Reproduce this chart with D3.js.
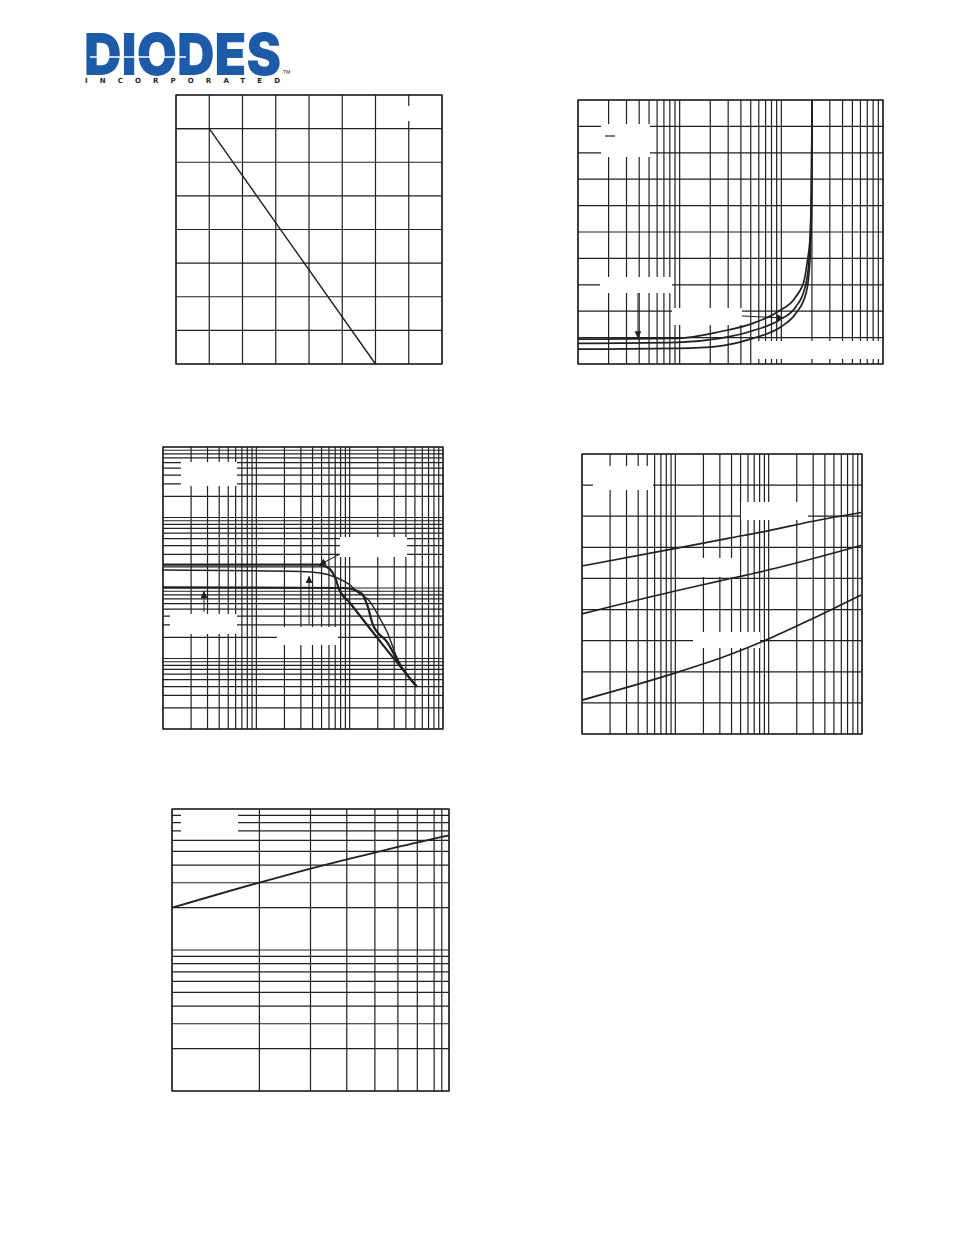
<!DOCTYPE html>
<html><head><meta charset="utf-8">
<script src="https://cdn.jsdelivr.net/npm/d3@7"></script>
<style>html,body{margin:0;padding:0;background:#fff}svg{display:block}</style>
</head><body><svg id="page" width="954" height="1235"></svg>
<script>
// ---------------- DATA ----------------
// Chart 1: power derating (linear)
const derateTemp  = [0, 25, 150];
const deratePower = [350, 350, 0];
const derateXGrid = [0, 25, 50, 75, 100, 125, 150, 175, 200];
const derateYGrid = [0, 50, 100, 150, 200, 250, 300, 350, 400];

// Chart 2: reverse characteristic (log x, linear y) – three curves
const revTopX = [1, 9.56, 24.7, 52.3, 92, 139, 168, 181, 191, 197, 201];
const revTopY = [0.94, 0.97, 1.22, 1.54, 1.98, 2.55, 3.18, 3.94, 4.70, 6.4, 10];
const revMidX = [1, 9.56, 24.7, 52.3, 95.6, 139, 168, 185, 192, 198, 201];
const revMidY = [0.78, 0.82, 0.97, 1.26, 1.67, 2.17, 2.80, 3.69, 4.70, 6.4, 10];
const revBotX = [1, 9.56, 24.7, 52.3, 99.3, 139, 175, 188, 195, 199, 201];
const revBotY = [0.56, 0.59, 0.68, 0.97, 1.41, 1.92, 2.68, 3.56, 4.70, 6.4, 10];
const revArrows = [ // [x0,y0,x1,y1] in data units
  [3.89, 2.69, 3.89, 0.98],
  [41, 1.82, 106, 1.74]
];

// Chart 3: log-log, three curves converging
const pulseTopX = [1, 45.8, 55.8, 64.8, 71.5, 76, 101, 228, 524];
const pulseTopY = [215, 215, 202, 169, 130, 100, 61.3, 15.5, 3.98];
const pulseMidX = [1, 29.4, 48.2, 69.7, 101, 120, 165, 201, 252, 322, 524];
const pulseMidY = [180, 171, 163, 143, 110, 88.6, 64, 41.4, 23.7, 10.2, 3.98];
const pulseBotX = [1, 85, 114, 136, 154, 178, 252, 347, 524];
const pulseBotY = [102, 100, 93.7, 82.2, 57.4, 29.9, 17.1, 8.09, 3.98];
const pulseArrows = [
  [78.9, 303, 47, 212],
  [36.7, 29.9, 36.7, 148],
  [2.75, 45.7, 2.75, 90.7]
];

// Chart 4: log x, linear y – three rising curves
const capTopX = [1, 9.45, 36.7, 98.6, 287, 977];
const capTopY = [5.40, 5.95, 6.29, 6.53, 6.83, 7.12];
const capMidX = [1, 9.45, 30.1, 98.6, 977];
const capMidY = [3.86, 4.58, 4.92, 5.27, 6.06];
const capBotX = [1, 9.45, 33.8, 98.6, 287, 977];
const capBotY = [1.09, 1.94, 2.49, 3.05, 3.69, 4.47];

// Chart 5: log-log single line
const c5X = [1, 2, 3, 4, 5, 6, 9];
const c5Y = [19.95, 30.1, 37.7, 43.9, 49.1, 53.8, 65.1];
const c5XGrid = [1, 2, 3, 4, 5, 6, 7, 8, 8.5, 9];

// ---------------- LAYOUT ----------------
const INK = "#231f20";
const svg = d3.select("#page");

function panel(cfg) {
  const g = svg.append("g");
  const {x, y} = cfg;
  const [x0, x1] = x.range(), [y1, y0] = y.range();
  g.selectAll(".gx").data(cfg.xGrid).join("line")
    .attr("x1", d => x(d)).attr("x2", d => x(d))
    .attr("y1", y0).attr("y2", y1)
    .attr("stroke", INK).attr("stroke-width", 1.2);
  g.selectAll(".gy").data(cfg.yGrid).join("line")
    .attr("y1", d => y(d)).attr("y2", d => y(d))
    .attr("x1", x0).attr("x2", x1)
    .attr("stroke", INK).attr("stroke-width", 1.2);
  (cfg.boxes || []).forEach(b => {
    g.append("rect").attr("x", x0 + b[0]).attr("y", y0 + b[1])
      .attr("width", b[2]).attr("height", b[3]).attr("fill", "#fff");
  });
  g.append("rect").attr("x", x0).attr("y", y0)
    .attr("width", x1 - x0).attr("height", y1 - y0)
    .attr("fill", "none").attr("stroke", INK).attr("stroke-width", 1.3);
  return g;
}

function drawSeries(g, x, y, xs, ys, w, curve) {
  const pts = xs.map((v, i) => [v, ys[i]]);
  g.append("path").datum(pts)
    .attr("d", d3.line().x(d => x(d[0])).y(d => y(d[1])).curve(curve || d3.curveLinear))
    .attr("fill", "none").attr("stroke", INK).attr("stroke-width", w)
    .attr("stroke-linejoin", "round");
}

svg.append("defs").append("marker")
  .attr("id", "arr").attr("viewBox", "0 0 10 10").attr("refX", 10).attr("refY", 5)
  .attr("markerWidth", 7).attr("markerHeight", 7).attr("markerUnits", "userSpaceOnUse")
  .attr("orient", "auto")
  .append("path").attr("d", "M0,0L10,5L0,10Z").attr("fill", INK);

function drawArrows(g, x, y, arr) {
  arr.forEach(a => {
    g.append("line").attr("x1", x(a[0])).attr("y1", y(a[1]))
      .attr("x2", x(a[2])).attr("y2", y(a[3]))
      .attr("stroke", INK).attr("stroke-width", 1).attr("marker-end", "url(#arr)");
  });
}

// ---- Chart 1
{
  const x = d3.scaleLinear().domain([0, 200]).range([176, 442]);
  const y = d3.scaleLinear().domain([0, 400]).range([364, 95]);
  const g = panel({x, y, xGrid: derateXGrid, yGrid: derateYGrid, boxes: [[222, 11, 20, 15]]});
  drawSeries(g, x, y, derateTemp, deratePower, 1.4);
}

// ---- Chart 2
{
  const x = d3.scaleLog().domain([1, 1000]).range([578, 883]);
  const y = d3.scaleLinear().domain([0, 10]).range([364, 100]);
  const g = panel({x, y, xGrid: x.ticks(), yGrid: y.ticks(10),
    boxes: [[23, 24, 49, 33], [22, 177, 72, 16], [94, 208, 70, 17], [179, 241, 125, 18]]});
  g.append("line").attr("x1", x(1) + 27).attr("x2", x(1) + 37)
    .attr("y1", y(10) + 36).attr("y2", y(10) + 36).attr("stroke", INK).attr("stroke-width", 1.2);
  [[revTopX, revTopY], [revMidX, revMidY], [revBotX, revBotY]].forEach(s =>
    drawSeries(g, x, y, s[0], s[1], 1.7, d3.curveMonotoneX));
  drawArrows(g, x, y, revArrows);
}

// ---- Chart 3
{
  const x = d3.scaleLog().domain([1, 1000]).range([163, 443]);
  const y = d3.scaleLog().domain([1, 10000]).range([729, 447]);
  const g = panel({x, y, xGrid: x.ticks(), yGrid: y.ticks(),
    boxes: [[18, 15, 56, 24], [177, 90, 67, 20], [7, 167, 67, 20], [114, 180, 61, 18]]});
  drawSeries(g, x, y, pulseTopX, pulseTopY, 2.2, d3.curveMonotoneX);
  drawSeries(g, x, y, pulseMidX, pulseMidY, 1.4, d3.curveMonotoneX);
  drawSeries(g, x, y, pulseBotX, pulseBotY, 2.2, d3.curveMonotoneX);
  drawArrows(g, x, y, pulseArrows);
}

// ---- Chart 4
{
  const x = d3.scaleLog().domain([1, 1000]).range([582, 862]);
  const y = d3.scaleLinear().domain([0, 9]).range([734, 454]);
  const g = panel({x, y, xGrid: x.ticks(), yGrid: y.ticks(9),
    boxes: [[11, 12, 60, 24], [159, 48, 67, 18], [118, 104, 38, 19], [111, 178, 67, 16]]});
  drawSeries(g, x, y, capTopX, capTopY, 1.7, d3.curveMonotoneX);
  drawSeries(g, x, y, capMidX, capMidY, 1.7, d3.curveMonotoneX);
  drawSeries(g, x, y, capBotX, capBotY, 1.7, d3.curveMonotoneX);
}

// ---- Chart 5
{
  const x = d3.scaleLog().domain([1, 9]).range([172, 449]);
  const y = d3.scaleLog().domain([1, 100]).range([1091, 809]);
  const g = panel({x, y, xGrid: c5XGrid, yGrid: y.ticks(), boxes: [[9, 3, 57, 26]]});
  drawSeries(g, x, y, c5X, c5Y, 1.8, d3.curveMonotoneX);
}

// ---- Logo
{
  const g = svg.append("g");
  g.append("g").attr("transform", "translate(84,75) scale(1,1.15)")
    .append("text").attr("x", 0).attr("y", 0)
    .attr("font-family", "Inter, 'DejaVu Sans', sans-serif").attr("font-weight", 900)
    .attr("font-size", 50).attr("fill", "#1d5ba8")
    .attr("textLength", 197).attr("lengthAdjust", "spacingAndGlyphs")
    .text("DIODES");
  g.append("line").attr("x1", 90).attr("x2", 186).attr("y1", 57).attr("y2", 57)
    .attr("stroke", "#fff").attr("stroke-width", 1.6);
  g.append("text").attr("x", 85).attr("y", 83)
    .attr("font-family", "'DejaVu Sans', sans-serif").attr("font-weight", "bold")
    .attr("font-size", 7).attr("fill", INK)
    .attr("textLength", 195).attr("lengthAdjust", "spacing")
    .text("INCORPORATED");
  g.append("text").attr("x", 283).attr("y", 74)
    .attr("font-family", "'DejaVu Sans', sans-serif").attr("font-size", 5).attr("fill", INK)
    .text("TM");
}
</script></body></html>
